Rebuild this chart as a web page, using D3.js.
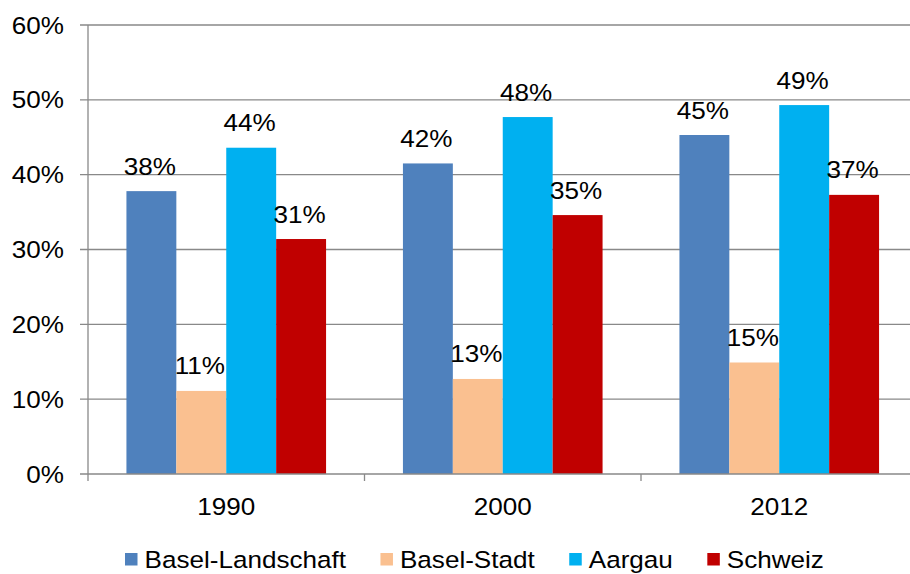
<!DOCTYPE html>
<html>
<head>
<meta charset="utf-8">
<script src="https://cdn.jsdelivr.net/npm/d3@7"></script>
<style>
  html, body { margin: 0; padding: 0; background: #fff; }
  svg { display: block; }
  text { font-family: "Liberation Sans", Arial, sans-serif; fill: #000; }
</style>
</head>
<body>
<svg id="chart" width="910" height="574"></svg>
<script>
const categories = ["1990", "2000", "2012"];
const seriesNames = ["Basel-Landschaft", "Basel-Stadt", "Aargau", "Schweiz"];
const seriesColors = ["#4F81BD", "#FAC090", "#00B0F0", "#C00000"];
const baselLandschaft = [0.378, 0.415, 0.453];
const baselStadt = [0.111, 0.127, 0.149];
const aargau = [0.436, 0.477, 0.493];
const schweiz = [0.314, 0.346, 0.373];
const yTicks = [0, 0.1, 0.2, 0.3, 0.4, 0.5, 0.6];

const seriesValues = [baselLandschaft, baselStadt, aargau, schweiz];
const FS = 23.5, SX = 1.11;

const svg = d3.select("#chart");
const x0 = d3.scaleBand().domain(categories).range([88, 917.5]).padding(0);
const bw = x0.bandwidth();
const x1 = d3.scaleBand().domain(seriesNames).range([bw * 0.139, bw * (1 - 0.139)]).padding(0);
const y = d3.scaleLinear().domain([0, 0.6]).range([474, 25]);
const grid = "#898989";

function stretchedText(g, x, yy, txt, anchor) {
  const t = g.append("g").attr("transform", `translate(${x},${yy}) scale(${SX},1)`)
    .append("text").attr("font-size", FS).attr("text-anchor", anchor).text(txt);
  return t;
}

// gridlines (except 0)
svg.append("g").selectAll("line").data(yTicks.filter(d => d > 0)).join("line")
  .attr("x1", 80).attr("x2", 910)
  .attr("y1", d => y(d)).attr("y2", d => y(d))
  .attr("stroke", grid).attr("stroke-width", 1.3);

// bars
const bars = svg.append("g");
categories.forEach((c, ci) => {
  seriesNames.forEach((s, si) => {
    const v = seriesValues[si][ci];
    bars.append("rect")
      .attr("x", x0(c) + x1(s)).attr("width", x1.bandwidth())
      .attr("y", y(v)).attr("height", y(0) - y(v))
      .attr("fill", seriesColors[si]);
  });
});

// y axis line
svg.append("line").attr("x1", 88).attr("x2", 88).attr("y1", y(0.6)).attr("y2", 481)
  .attr("stroke", grid).attr("stroke-width", 1.3);
// x axis line (on top)
svg.append("line").attr("x1", 80).attr("x2", 910).attr("y1", y(0)).attr("y2", y(0))
  .attr("stroke", grid).attr("stroke-width", 1.3);
// category ticks
svg.append("g").selectAll("line").data(categories.slice(1)).join("line")
  .attr("x1", d => x0(d)).attr("x2", d => x0(d))
  .attr("y1", y(0)).attr("y2", 481)
  .attr("stroke", grid).attr("stroke-width", 1.3);

// y tick labels
const yl = svg.append("g");
yTicks.forEach(t => stretchedText(yl, 64, y(t) + 8.5, d3.format(".0%")(t), "end"));

// x labels
const xl = svg.append("g");
categories.forEach(c => stretchedText(xl, x0(c) + bw / 2, 515, c, "middle"));

// data labels
const dl = svg.append("g");
categories.forEach((c, ci) => {
  seriesNames.forEach((s, si) => {
    const v = seriesValues[si][ci];
    stretchedText(dl, x0(c) + x1(s) + x1.bandwidth() / 2 - 1.5, y(v) - 16.5, d3.format(".0%")(v), "middle");
  });
});

// legend
const lg = svg.append("g");
let lx = 125;
seriesNames.forEach((s, si) => {
  lg.append("rect").attr("x", lx).attr("y", 553).attr("width", 12.5).attr("height", 12.5).attr("fill", seriesColors[si]);
  const t = stretchedText(lg, lx + 19.5, 568.3, s, "start");
  const w = t.node().getComputedTextLength() * SX;
  lx = lx + 19.5 + w + 34.5;
});
</script>
</body>
</html>
